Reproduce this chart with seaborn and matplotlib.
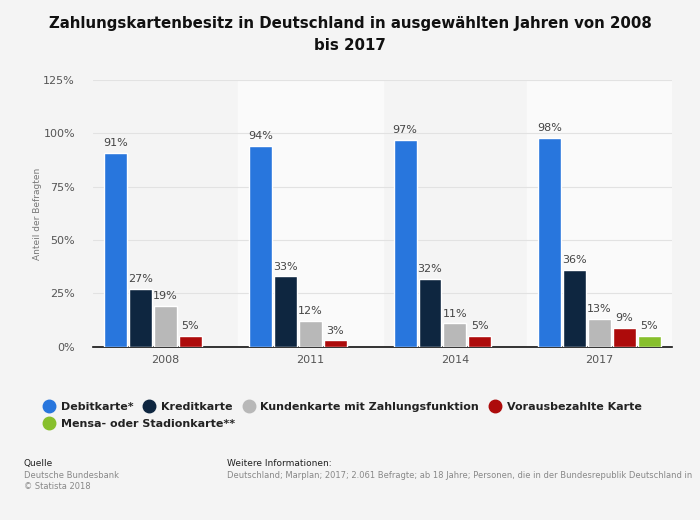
import matplotlib
matplotlib.use("Agg")
import matplotlib.pyplot as plt
import pandas as pd
import seaborn as sns
from matplotlib.lines import Line2D

jahre = ["2008", "2011", "2014", "2017"]
karten = ["Debitkarte*", "Kreditkarte", "Kundenkarte mit Zahlungsfunktion",
          "Vorausbezahlte Karte", "Mensa- oder Stadionkarte**"]
debit = [91, 94, 97, 98]
kredit = [27, 33, 32, 36]
kunden = [19, 12, 11, 13]
voraus = [5, 3, 5, 9]
mensa = [None, None, None, 5]
farben = ["#2876dd", "#0e2640", "#b8b8b8", "#ad0b0b", "#87bf2c"]

rows = []
for karte, werte in zip(karten, [debit, kredit, kunden, voraus, mensa]):
    for jahr, w in zip(jahre, werte):
        if w is not None:
            rows.append({"Jahr": jahr, "Karte": karte, "Wert": w})
df = pd.DataFrame(rows)

sns.set_style("white")
plt.rcParams["font.family"] = ["DejaVu Sans"]
bg = "#f4f4f4"
fig = plt.figure(figsize=(7, 5.2), dpi=100, facecolor=bg)
ax = fig.add_axes([0.133, 0.333, 0.827, 0.513], facecolor=bg)

for i in [1, 3]:
    ax.axvspan(i - 0.5, i + 0.5, color="#fafafa", zorder=0)

sns.barplot(data=df, x="Jahr", y="Wert", hue="Karte", order=jahre, hue_order=karten,
            palette=farben, width=0.86, gap=0.08, saturation=1, ax=ax, zorder=3)

for c in ax.containers:
    ax.bar_label(c, fmt="{:.0f}%", padding=3.5, fontsize=8, color="#444444")

ax.set_xlim(-0.5, 3.5)
ax.set_ylim(0, 125)
ax.set_yticks([0, 25, 50, 75, 100, 125])
ax.set_yticklabels(["0%", "25%", "50%", "75%", "100%", "125%"])
ax.yaxis.grid(True, color="#e2e2e2", linewidth=0.8, zorder=1)
ax.set_axisbelow(True)
ax.tick_params(axis="x", labelsize=8, labelcolor="#555555", length=0, pad=6)
ax.tick_params(axis="y", labelsize=8, labelcolor="#555555", length=0, pad=13)
for s in ["top", "right", "left"]:
    ax.spines[s].set_visible(False)
ax.spines["bottom"].set_color("#111111")
ax.spines["bottom"].set_linewidth(1.2)
ax.set_xlabel("")
ax.set_ylabel("Anteil der Befragten", fontsize=6.5, color="#777777", labelpad=1)

ax.get_legend().remove()
mk = [Line2D([], [], marker="o", linestyle="", markersize=9, color=f) for f in farben]
fig.legend(mk[:4], karten[:4], loc="upper left", bbox_to_anchor=(0.054, 0.236),
           ncol=4, frameon=False, handletextpad=0.45, columnspacing=0.85,
           handlelength=1.2, borderaxespad=0,
           prop={"weight": "bold", "size": 8}, labelcolor="#222222")
fig.legend(mk[4:], karten[4:], loc="upper left", bbox_to_anchor=(0.054, 0.203),
           frameon=False, handletextpad=0.45, handlelength=1.2, borderaxespad=0,
           prop={"weight": "bold", "size": 8}, labelcolor="#222222")

fig.text(0.5, 0.97, "Zahlungskartenbesitz in Deutschland in ausgewählten Jahren von 2008\nbis 2017",
         ha="center", va="top", fontsize=10.8, fontweight="bold", color="#111111",
         linespacing=1.65)

fig.text(0.034, 0.104, "Quelle", fontsize=6.5, color="#222222")
fig.text(0.034, 0.081, "Deutsche Bundesbank", fontsize=6, color="#888888")
fig.text(0.034, 0.060, "© Statista 2018", fontsize=6, color="#888888")
fig.text(0.324, 0.104, "Weitere Informationen:", fontsize=6.5, color="#222222")
fig.text(0.324, 0.081, "Deutschland; Marplan; 2017; 2.061 Befragte; ab 18 Jahre; Personen, die in der Bundesrepublik Deutschland in",
         fontsize=6, color="#888888")

fig.savefig("out.png", dpi=100, facecolor=bg)
